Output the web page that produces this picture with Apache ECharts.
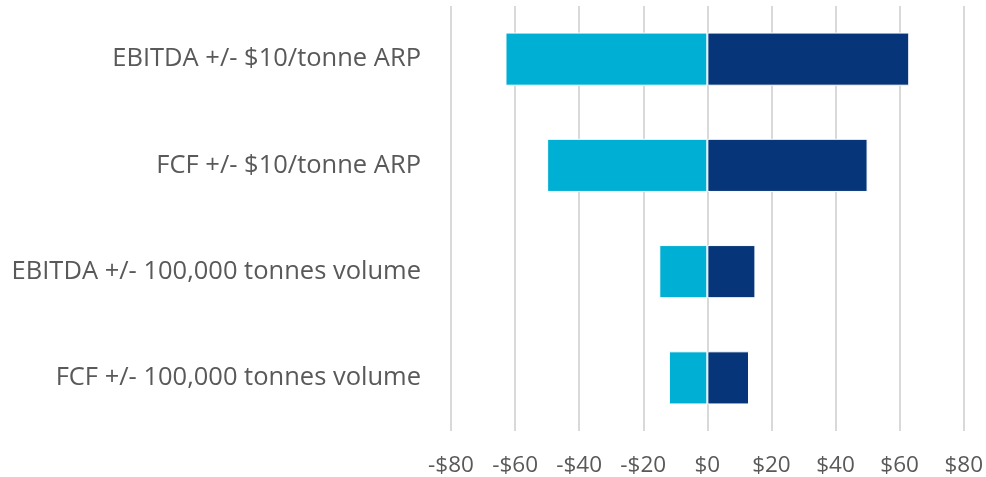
<!DOCTYPE html>
<html>
<head>
<meta charset="utf-8">
<script src="https://cdn.jsdelivr.net/npm/echarts@6/dist/echarts.min.js"></script>
<style>
html, body { margin: 0; padding: 0; background: #fff; }
#main { width: 986px; height: 477px; }
</style>
</head>
<body>
<div id="main"></div>
<script>
// sensitivity categories, top to bottom
var categories = [
    'EBITDA +/- $10/tonne ARP',
    'FCF +/- $10/tonne ARP',
    'EBITDA +/- 100,000 tonnes volume',
    'FCF +/- 100,000 tonnes volume'
];
var downside = [-63, -50, -15, -12];
var upside = [63, 50, 15, 13];
var xTicks = [-80, -60, -40, -20, 0, 20, 40, 60, 80];

var myChart = echarts.init(document.getElementById('main'));

var labelFont = "'Open Sans', 'Noto Sans', sans-serif";

myChart.setOption({
    animation: false,
    grid: { left: 451, right: 22, top: 6, bottom: 46, containLabel: false },
    xAxis: {
        type: 'value',
        min: xTicks[0],
        max: xTicks[xTicks.length - 1],
        interval: 20,
        axisLine: { show: false },
        axisTick: { show: false },
        splitLine: { show: true, lineStyle: { color: '#d9d9d9', width: 2 } },
        axisLabel: {
            color: '#595959',
            fontSize: 22.5,
            fontFamily: labelFont,
            margin: 23,
            formatter: function (v) {
                return (v < 0 ? '-$' : '$') + Math.abs(v);
            }
        }
    },
    yAxis: {
        type: 'category',
        inverse: true,
        data: categories,
        axisLine: { show: false },
        axisTick: { show: false },
        axisLabel: {
            color: '#595959',
            fontSize: 25.5,
            fontFamily: labelFont,
            margin: 30
        }
    },
    series: [
        {
            name: 'Down',
            type: 'bar',
            data: downside,
            barWidth: '50%',
            barGap: '-100%',
            itemStyle: { color: '#00B0D4', borderColor: '#fff', borderWidth: 1 }
        },
        {
            name: 'Up',
            type: 'bar',
            data: upside,
            barWidth: '50%',
            itemStyle: { color: '#073579', borderColor: '#fff', borderWidth: 1 }
        }
    ]
});
</script>
</body>
</html>
